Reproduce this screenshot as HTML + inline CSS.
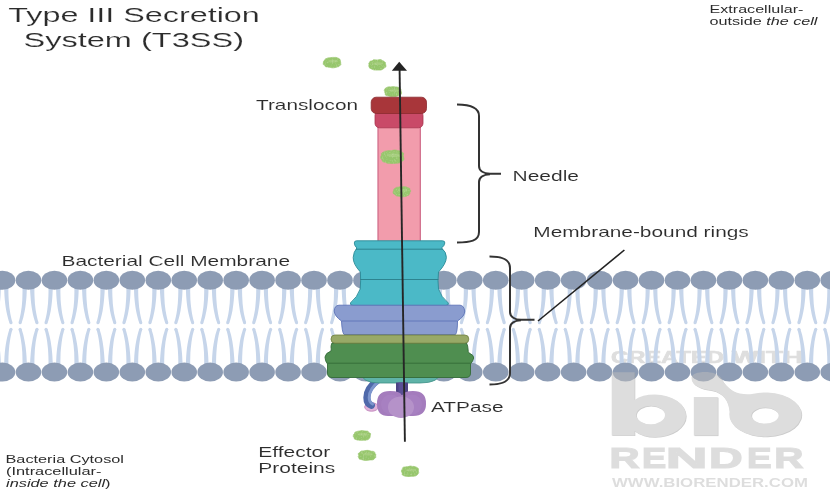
<!DOCTYPE html>
<html><head><meta charset="utf-8"><style>
html,body{margin:0;padding:0;background:#fff;width:830px;height:500px;overflow:hidden}
svg{display:block;will-change:transform}
text{font-family:"Liberation Sans",sans-serif;fill:#2c2c2c}
.tx .t1{stroke:#fff;stroke-width:0.15px}
.tx .t2{stroke:#fff;stroke-width:0.08px}
.tx{opacity:0.995}
.wm text{font-weight:bold;fill:#bdbdbd}
</style></head><body>
<svg width="830" height="500" viewBox="0 0 830 500">
<defs><filter id="mot" x="-20%" y="-20%" width="140%" height="140%">
<feTurbulence type="fractalNoise" baseFrequency="0.9 0.5" numOctaves="2" seed="4" result="n"/>
<feColorMatrix in="n" type="matrix" values="0 0 0 0 0.68  0 0 0 0 0.82  0 0 0 0 0.52  0 0 0 0.9 -0.45" result="spk"/>
<feComposite in="spk" in2="SourceGraphic" operator="in" result="spk2"/>
<feMerge><feMergeNode in="SourceGraphic"/><feMergeNode in="spk2"/></feMerge>
</filter></defs>
<rect width="830" height="500" fill="#fff"/>
<g class="wm" style="font-weight:bold"><g style="fill:#dedede"><text style="fill:#dedede" x="611" y="362.8" font-size="16.8" textLength="113" lengthAdjust="spacingAndGlyphs" stroke="#dedede" stroke-width="0.7">CREATED</text><text style="fill:#dedede" x="732" y="362.8" font-size="16.8" textLength="71" lengthAdjust="spacingAndGlyphs" stroke="#dedede" stroke-width="0.7">WITH</text></g></g>
<!-- membrane -->
<path d="M-3.4 288.0L-3.4 292.1L-3.5 296.0L-3.7 299.8L-4.0 303.5L-4.3 307.0L-4.7 310.3L-5.3 313.5L-5.9 316.6L-6.6 319.5L-7.3 322.3L-4.5 323.3L-3.5 320.4L-2.7 317.4L-1.9 314.2L-1.3 310.9L-0.7 307.4L-0.2 303.8L0.2 300.1L0.5 296.2L0.7 292.2L0.8 288.0ZM0.8 364.5L0.7 360.3L0.5 356.3L0.2 352.4L-0.2 348.6L-0.7 344.9L-1.3 341.4L-1.9 338.1L-2.7 334.8L-3.5 331.7L-4.5 328.7L-7.3 329.7L-6.6 332.5L-5.9 335.6L-5.3 338.7L-4.7 342.0L-4.3 345.4L-4.0 349.0L-3.7 352.6L-3.5 356.5L-3.4 360.4L-3.4 364.5ZM4.2 288.0L4.3 292.2L4.5 296.2L4.8 300.1L5.2 303.8L5.7 307.4L6.3 310.9L7.0 314.2L7.8 317.4L8.6 320.4L9.6 323.3L12.4 322.3L11.6 319.5L10.9 316.6L10.3 313.5L9.8 310.3L9.3 307.0L9.0 303.5L8.7 299.8L8.5 296.0L8.4 292.1L8.4 288.0ZM8.4 364.5L8.4 360.4L8.5 356.5L8.7 352.7L9.0 349.0L9.3 345.4L9.8 342.0L10.3 338.7L10.9 335.6L11.6 332.5L12.4 329.7L9.6 328.7L8.6 331.7L7.8 334.8L7.0 338.1L6.3 341.4L5.7 344.9L5.2 348.6L4.8 352.4L4.5 356.3L4.3 360.3L4.2 364.5ZM22.5 288.0L22.5 292.1L22.4 296.0L22.3 299.8L22.0 303.5L21.7 307.0L21.2 310.3L20.7 313.5L20.1 316.6L19.4 319.5L18.6 322.3L21.5 323.3L22.4 320.4L23.3 317.4L24.0 314.2L24.7 310.9L25.3 307.4L25.8 303.8L26.2 300.1L26.5 296.2L26.7 292.2L26.8 288.0ZM26.8 364.5L26.7 360.3L26.5 356.3L26.2 352.4L25.8 348.6L25.3 344.9L24.7 341.4L24.0 338.1L23.3 334.8L22.4 331.7L21.5 328.7L18.6 329.7L19.4 332.5L20.1 335.6L20.7 338.7L21.2 342.0L21.7 345.4L22.0 349.0L22.3 352.6L22.4 356.5L22.5 360.4L22.5 364.5ZM30.1 288.0L30.2 292.2L30.5 296.2L30.8 300.1L31.2 303.8L31.7 307.4L32.3 310.9L32.9 314.2L33.7 317.4L34.6 320.4L35.5 323.3L38.4 322.3L37.6 319.5L36.9 316.6L36.3 313.5L35.7 310.3L35.3 307.0L34.9 303.5L34.7 299.8L34.5 296.0L34.4 292.1L34.4 288.0ZM34.4 364.5L34.4 360.4L34.5 356.5L34.7 352.7L34.9 349.0L35.3 345.4L35.7 342.0L36.3 338.7L36.9 335.6L37.6 332.5L38.4 329.7L35.5 328.7L34.6 331.7L33.7 334.8L32.9 338.1L32.3 341.4L31.7 344.9L31.2 348.6L30.8 352.4L30.5 356.3L30.2 360.3L30.1 364.5ZM48.5 288.0L48.5 292.1L48.4 296.0L48.2 299.8L48.0 303.5L47.6 307.0L47.2 310.3L46.7 313.5L46.1 316.6L45.4 319.5L44.6 322.3L47.4 323.3L48.4 320.4L49.2 317.4L50.0 314.2L50.7 310.9L51.2 307.4L51.7 303.8L52.1 300.1L52.4 296.2L52.6 292.2L52.8 288.0ZM52.8 364.5L52.6 360.3L52.4 356.3L52.1 352.4L51.7 348.6L51.2 344.9L50.7 341.4L50.0 338.1L49.2 334.8L48.4 331.7L47.5 328.7L44.6 329.7L45.4 332.5L46.1 335.6L46.7 338.7L47.2 342.0L47.6 345.4L48.0 349.0L48.2 352.6L48.4 356.5L48.5 360.4L48.5 364.5ZM56.1 288.0L56.2 292.2L56.4 296.2L56.7 300.1L57.1 303.8L57.6 307.4L58.2 310.9L58.9 314.2L59.7 317.4L60.5 320.4L61.5 323.3L64.3 322.3L63.5 319.5L62.8 316.6L62.2 313.5L61.7 310.3L61.3 307.0L60.9 303.5L60.6 299.8L60.5 296.0L60.4 292.1L60.4 288.0ZM60.4 364.5L60.4 360.4L60.5 356.5L60.6 352.7L60.9 349.0L61.3 345.4L61.7 342.0L62.2 338.7L62.8 335.6L63.6 332.5L64.3 329.7L61.5 328.7L60.5 331.7L59.7 334.8L58.9 338.1L58.2 341.4L57.6 344.9L57.1 348.6L56.7 352.4L56.4 356.3L56.2 360.3L56.1 364.5ZM74.4 288.0L74.4 292.1L74.3 296.0L74.2 299.8L73.9 303.5L73.6 307.0L73.1 310.3L72.6 313.5L72.0 316.6L71.3 319.5L70.6 322.3L73.4 323.3L74.3 320.4L75.2 317.4L75.9 314.2L76.6 310.9L77.2 307.4L77.7 303.8L78.1 300.1L78.4 296.2L78.6 292.2L78.7 288.0ZM78.7 364.5L78.6 360.3L78.4 356.3L78.1 352.4L77.7 348.6L77.2 344.9L76.6 341.4L75.9 338.1L75.2 334.8L74.3 331.7L73.4 328.7L70.5 329.7L71.3 332.5L72.0 335.6L72.6 338.7L73.1 342.0L73.6 345.4L73.9 349.0L74.2 352.6L74.3 356.5L74.4 360.4L74.4 364.5ZM82.0 288.0L82.2 292.2L82.4 296.2L82.7 300.1L83.1 303.8L83.6 307.4L84.2 310.9L84.9 314.2L85.6 317.4L86.5 320.4L87.5 323.3L90.3 322.3L89.5 319.5L88.8 316.6L88.2 313.5L87.7 310.3L87.2 307.0L86.9 303.5L86.6 299.8L86.4 296.0L86.3 292.1L86.3 288.0ZM86.3 364.5L86.3 360.4L86.4 356.5L86.6 352.7L86.9 349.0L87.2 345.4L87.7 342.0L88.2 338.7L88.8 335.6L89.5 332.5L90.3 329.7L87.5 328.7L86.5 331.7L85.6 334.8L84.9 338.1L84.2 341.4L83.6 344.9L83.1 348.6L82.7 352.4L82.4 356.3L82.2 360.3L82.0 364.5ZM100.4 288.0L100.4 292.1L100.3 296.0L100.1 299.8L99.9 303.5L99.5 307.0L99.1 310.3L98.6 313.5L98.0 316.6L97.3 319.5L96.5 322.3L99.4 323.3L100.3 320.4L101.1 317.4L101.9 314.2L102.6 310.9L103.1 307.4L103.6 303.8L104.0 300.1L104.3 296.2L104.6 292.2L104.7 288.0ZM104.7 364.5L104.6 360.3L104.3 356.3L104.0 352.4L103.6 348.6L103.1 344.9L102.6 341.4L101.9 338.1L101.2 334.8L100.3 331.7L99.4 328.7L96.5 329.7L97.3 332.5L98.0 335.6L98.6 338.7L99.1 342.0L99.5 345.4L99.9 349.0L100.1 352.6L100.3 356.5L100.4 360.4L100.4 364.5ZM108.0 288.0L108.1 292.2L108.3 296.2L108.7 300.1L109.1 303.8L109.6 307.4L110.1 310.9L110.8 314.2L111.6 317.4L112.5 320.4L113.4 323.3L116.3 322.3L115.5 319.5L114.8 316.6L114.1 313.5L113.6 310.3L113.2 307.0L112.8 303.5L112.6 299.8L112.4 296.0L112.3 292.1L112.3 288.0ZM112.3 364.5L112.3 360.4L112.4 356.5L112.6 352.7L112.8 349.0L113.2 345.4L113.6 342.0L114.1 338.7L114.8 335.6L115.5 332.5L116.3 329.7L113.4 328.7L112.5 331.7L111.6 334.8L110.8 338.1L110.1 341.4L109.6 344.9L109.1 348.6L108.7 352.4L108.3 356.3L108.1 360.3L108.0 364.5ZM126.4 288.0L126.4 292.1L126.3 296.0L126.1 299.8L125.8 303.5L125.5 307.0L125.1 310.3L124.5 313.5L123.9 316.6L123.2 319.5L122.5 322.3L125.3 323.3L126.3 320.4L127.1 317.4L127.9 314.2L128.5 310.9L129.1 307.4L129.6 303.8L130.0 300.1L130.3 296.2L130.5 292.2L130.6 288.0ZM130.6 364.5L130.5 360.3L130.3 356.3L130.0 352.4L129.6 348.6L129.1 344.9L128.5 341.4L127.9 338.1L127.1 334.8L126.3 331.7L125.3 328.7L122.5 329.7L123.2 332.5L123.9 335.6L124.5 338.7L125.1 342.0L125.5 345.4L125.8 349.0L126.1 352.6L126.3 356.5L126.4 360.4L126.4 364.5ZM134.0 288.0L134.1 292.2L134.3 296.2L134.6 300.1L135.0 303.8L135.5 307.4L136.1 310.9L136.8 314.2L137.6 317.4L138.4 320.4L139.4 323.3L142.2 322.3L141.4 319.5L140.7 316.6L140.1 313.5L139.6 310.3L139.1 307.0L138.8 303.5L138.5 299.8L138.3 296.0L138.2 292.1L138.2 288.0ZM138.2 364.5L138.2 360.4L138.3 356.5L138.5 352.7L138.8 349.0L139.1 345.4L139.6 342.0L140.1 338.7L140.7 335.6L141.4 332.5L142.2 329.7L139.4 328.7L138.4 331.7L137.6 334.8L136.8 338.1L136.1 341.4L135.5 344.9L135.0 348.6L134.6 352.4L134.3 356.3L134.1 360.3L134.0 364.5ZM152.3 288.0L152.3 292.1L152.2 296.0L152.1 299.8L151.8 303.5L151.5 307.0L151.0 310.3L150.5 313.5L149.9 316.6L149.2 319.5L148.4 322.3L151.3 323.3L152.2 320.4L153.1 317.4L153.8 314.2L154.5 310.9L155.1 307.4L155.6 303.8L156.0 300.1L156.3 296.2L156.5 292.2L156.6 288.0ZM156.6 364.5L156.5 360.3L156.3 356.3L156.0 352.4L155.6 348.6L155.1 344.9L154.5 341.4L153.8 338.1L153.1 334.8L152.2 331.7L151.3 328.7L148.4 329.7L149.2 332.5L149.9 335.6L150.5 338.7L151.0 342.0L151.5 345.4L151.8 349.0L152.1 352.6L152.2 356.5L152.3 360.4L152.3 364.5ZM159.9 288.0L160.0 292.2L160.3 296.2L160.6 300.1L161.0 303.8L161.5 307.4L162.1 310.9L162.7 314.2L163.5 317.4L164.4 320.4L165.3 323.3L168.2 322.3L167.4 319.5L166.7 316.6L166.1 313.5L165.5 310.3L165.1 307.0L164.7 303.5L164.5 299.8L164.3 296.0L164.2 292.1L164.2 288.0ZM164.2 364.5L164.2 360.4L164.3 356.5L164.5 352.7L164.7 349.0L165.1 345.4L165.5 342.0L166.1 338.7L166.7 335.6L167.4 332.5L168.2 329.7L165.3 328.7L164.4 331.7L163.5 334.8L162.7 338.1L162.1 341.4L161.5 344.9L161.0 348.6L160.6 352.4L160.3 356.3L160.0 360.3L159.9 364.5ZM178.3 288.0L178.3 292.1L178.2 296.0L178.0 299.8L177.8 303.5L177.4 307.0L177.0 310.3L176.5 313.5L175.9 316.6L175.2 319.5L174.4 322.3L177.2 323.3L178.2 320.4L179.0 317.4L179.8 314.2L180.5 310.9L181.0 307.4L181.5 303.8L181.9 300.1L182.2 296.2L182.4 292.2L182.6 288.0ZM182.6 364.5L182.4 360.3L182.2 356.3L181.9 352.4L181.5 348.6L181.0 344.9L180.5 341.4L179.8 338.1L179.0 334.8L178.2 331.7L177.3 328.7L174.4 329.7L175.2 332.5L175.9 335.6L176.5 338.7L177.0 342.0L177.4 345.4L177.8 349.0L178.0 352.6L178.2 356.5L178.3 360.4L178.3 364.5ZM185.9 288.0L186.0 292.2L186.2 296.2L186.5 300.1L186.9 303.8L187.4 307.4L188.0 310.9L188.7 314.2L189.5 317.4L190.3 320.4L191.3 323.3L194.1 322.3L193.3 319.5L192.6 316.6L192.0 313.5L191.5 310.3L191.1 307.0L190.7 303.5L190.4 299.8L190.3 296.0L190.2 292.1L190.2 288.0ZM190.2 364.5L190.2 360.4L190.3 356.5L190.4 352.7L190.7 349.0L191.1 345.4L191.5 342.0L192.0 338.7L192.6 335.6L193.4 332.5L194.1 329.7L191.3 328.7L190.3 331.7L189.5 334.8L188.7 338.1L188.0 341.4L187.4 344.9L186.9 348.6L186.5 352.4L186.2 356.3L186.0 360.3L185.9 364.5ZM204.2 288.0L204.2 292.1L204.1 296.0L204.0 299.8L203.7 303.5L203.4 307.0L202.9 310.3L202.4 313.5L201.8 316.6L201.1 319.5L200.4 322.3L203.2 323.3L204.1 320.4L205.0 317.4L205.7 314.2L206.4 310.9L207.0 307.4L207.5 303.8L207.9 300.1L208.2 296.2L208.4 292.2L208.5 288.0ZM208.5 364.5L208.4 360.3L208.2 356.3L207.9 352.4L207.5 348.6L207.0 344.9L206.4 341.4L205.7 338.1L205.0 334.8L204.1 331.7L203.2 328.7L200.3 329.7L201.1 332.5L201.8 335.6L202.4 338.7L202.9 342.0L203.4 345.4L203.7 349.0L204.0 352.6L204.1 356.5L204.2 360.4L204.2 364.5ZM211.8 288.0L212.0 292.2L212.2 296.2L212.5 300.1L212.9 303.8L213.4 307.4L214.0 310.9L214.7 314.2L215.4 317.4L216.3 320.4L217.3 323.3L220.1 322.3L219.3 319.5L218.6 316.6L218.0 313.5L217.5 310.3L217.0 307.0L216.7 303.5L216.4 299.8L216.2 296.0L216.1 292.1L216.1 288.0ZM216.1 364.5L216.1 360.4L216.2 356.5L216.4 352.7L216.7 349.0L217.0 345.4L217.5 342.0L218.0 338.7L218.6 335.6L219.3 332.5L220.1 329.7L217.3 328.7L216.3 331.7L215.4 334.8L214.7 338.1L214.0 341.4L213.4 344.9L212.9 348.6L212.5 352.4L212.2 356.3L212.0 360.3L211.8 364.5ZM230.2 288.0L230.2 292.1L230.1 296.0L229.9 299.8L229.7 303.5L229.3 307.0L228.9 310.3L228.4 313.5L227.8 316.6L227.1 319.5L226.3 322.3L229.2 323.3L230.1 320.4L230.9 317.4L231.7 314.2L232.4 310.9L232.9 307.4L233.4 303.8L233.8 300.1L234.1 296.2L234.4 292.2L234.5 288.0ZM234.5 364.5L234.4 360.3L234.1 356.3L233.8 352.4L233.4 348.6L232.9 344.9L232.4 341.4L231.7 338.1L231.0 334.8L230.1 331.7L229.2 328.7L226.3 329.7L227.1 332.5L227.8 335.6L228.4 338.7L228.9 342.0L229.3 345.4L229.7 349.0L229.9 352.6L230.1 356.5L230.2 360.4L230.2 364.5ZM237.8 288.0L237.9 292.2L238.1 296.2L238.5 300.1L238.9 303.8L239.4 307.4L239.9 310.9L240.6 314.2L241.4 317.4L242.3 320.4L243.2 323.3L246.1 322.3L245.3 319.5L244.6 316.6L243.9 313.5L243.4 310.3L243.0 307.0L242.6 303.5L242.4 299.8L242.2 296.0L242.1 292.1L242.1 288.0ZM242.1 364.5L242.1 360.4L242.2 356.5L242.4 352.7L242.6 349.0L243.0 345.4L243.4 342.0L243.9 338.7L244.6 335.6L245.3 332.5L246.1 329.7L243.2 328.7L242.3 331.7L241.4 334.8L240.6 338.1L239.9 341.4L239.4 344.9L238.9 348.6L238.5 352.4L238.1 356.3L237.9 360.3L237.8 364.5ZM256.2 288.0L256.2 292.1L256.1 296.0L255.9 299.8L255.6 303.5L255.3 307.0L254.9 310.3L254.3 313.5L253.7 316.6L253.0 319.5L252.3 322.3L255.1 323.3L256.1 320.4L256.9 317.4L257.7 314.2L258.3 310.9L258.9 307.4L259.4 303.8L259.8 300.1L260.1 296.2L260.3 292.2L260.4 288.0ZM260.4 364.5L260.3 360.3L260.1 356.3L259.8 352.4L259.4 348.6L258.9 344.9L258.3 341.4L257.7 338.1L256.9 334.8L256.1 331.7L255.1 328.7L252.3 329.7L253.0 332.5L253.7 335.6L254.3 338.7L254.9 342.0L255.3 345.4L255.6 349.0L255.9 352.6L256.1 356.5L256.2 360.4L256.2 364.5ZM263.8 288.0L263.9 292.2L264.1 296.2L264.4 300.1L264.8 303.8L265.3 307.4L265.9 310.9L266.6 314.2L267.4 317.4L268.2 320.4L269.2 323.3L272.0 322.3L271.2 319.5L270.5 316.6L269.9 313.5L269.4 310.3L268.9 307.0L268.6 303.5L268.3 299.8L268.1 296.0L268.0 292.1L268.0 288.0ZM268.0 364.5L268.0 360.4L268.1 356.5L268.3 352.7L268.6 349.0L268.9 345.4L269.4 342.0L269.9 338.7L270.5 335.6L271.2 332.5L272.0 329.7L269.2 328.7L268.2 331.7L267.4 334.8L266.6 338.1L265.9 341.4L265.3 344.9L264.8 348.6L264.4 352.4L264.1 356.3L263.9 360.3L263.8 364.5ZM282.1 288.0L282.1 292.1L282.0 296.0L281.9 299.8L281.6 303.5L281.3 307.0L280.8 310.3L280.3 313.5L279.7 316.6L279.0 319.5L278.2 322.3L281.1 323.3L282.0 320.4L282.9 317.4L283.6 314.2L284.3 310.9L284.9 307.4L285.4 303.8L285.8 300.1L286.1 296.2L286.3 292.2L286.4 288.0ZM286.4 364.5L286.3 360.3L286.1 356.3L285.8 352.4L285.4 348.6L284.9 344.9L284.3 341.4L283.6 338.1L282.9 334.8L282.0 331.7L281.1 328.7L278.2 329.7L279.0 332.5L279.7 335.6L280.3 338.7L280.8 342.0L281.3 345.4L281.6 349.0L281.9 352.6L282.0 356.5L282.1 360.4L282.1 364.5ZM289.7 288.0L289.8 292.2L290.1 296.2L290.4 300.1L290.8 303.8L291.3 307.4L291.9 310.9L292.5 314.2L293.3 317.4L294.2 320.4L295.1 323.3L298.0 322.3L297.2 319.5L296.5 316.6L295.9 313.5L295.3 310.3L294.9 307.0L294.5 303.5L294.3 299.8L294.1 296.0L294.0 292.1L294.0 288.0ZM294.0 364.5L294.0 360.4L294.1 356.5L294.3 352.7L294.5 349.0L294.9 345.4L295.3 342.0L295.9 338.7L296.5 335.6L297.2 332.5L298.0 329.7L295.1 328.7L294.2 331.7L293.3 334.8L292.5 338.1L291.9 341.4L291.3 344.9L290.8 348.6L290.4 352.4L290.1 356.3L289.8 360.3L289.7 364.5ZM308.1 288.0L308.1 292.1L308.0 296.0L307.8 299.8L307.6 303.5L307.2 307.0L306.8 310.3L306.3 313.5L305.7 316.6L305.0 319.5L304.2 322.3L307.0 323.3L308.0 320.4L308.8 317.4L309.6 314.2L310.3 310.9L310.8 307.4L311.3 303.8L311.7 300.1L312.0 296.2L312.2 292.2L312.4 288.0ZM312.4 364.5L312.2 360.3L312.0 356.3L311.7 352.4L311.3 348.6L310.8 344.9L310.3 341.4L309.6 338.1L308.8 334.8L308.0 331.7L307.1 328.7L304.2 329.7L305.0 332.5L305.7 335.6L306.3 338.7L306.8 342.0L307.2 345.4L307.6 349.0L307.8 352.6L308.0 356.5L308.1 360.4L308.1 364.5ZM315.7 288.0L315.8 292.2L316.0 296.2L316.3 300.1L316.7 303.8L317.2 307.4L317.8 310.9L318.5 314.2L319.3 317.4L320.1 320.4L321.1 323.3L323.9 322.3L323.1 319.5L322.4 316.6L321.8 313.5L321.3 310.3L320.9 307.0L320.5 303.5L320.2 299.8L320.1 296.0L320.0 292.1L320.0 288.0ZM320.0 364.5L320.0 360.4L320.1 356.5L320.2 352.7L320.5 349.0L320.9 345.4L321.3 342.0L321.8 338.7L322.4 335.6L323.2 332.5L323.9 329.7L321.1 328.7L320.1 331.7L319.3 334.8L318.5 338.1L317.8 341.4L317.2 344.9L316.7 348.6L316.3 352.4L316.0 356.3L315.8 360.3L315.7 364.5ZM334.0 288.0L334.0 292.1L333.9 296.0L333.8 299.8L333.5 303.5L333.2 307.0L332.7 310.3L332.2 313.5L331.6 316.6L330.9 319.5L330.2 322.3L333.0 323.3L333.9 320.4L334.8 317.4L335.5 314.2L336.2 310.9L336.8 307.4L337.3 303.8L337.7 300.1L338.0 296.2L338.2 292.2L338.3 288.0ZM338.3 364.5L338.2 360.3L338.0 356.3L337.7 352.4L337.3 348.6L336.8 344.9L336.2 341.4L335.5 338.1L334.8 334.8L333.9 331.7L333.0 328.7L330.1 329.7L330.9 332.5L331.6 335.6L332.2 338.7L332.7 342.0L333.2 345.4L333.5 349.0L333.8 352.6L333.9 356.5L334.0 360.4L334.0 364.5ZM341.6 288.0L341.8 292.2L342.0 296.2L342.3 300.1L342.7 303.8L343.2 307.4L343.8 310.9L344.5 314.2L345.2 317.4L346.1 320.4L347.1 323.3L349.9 322.3L349.1 319.5L348.4 316.6L347.8 313.5L347.3 310.3L346.8 307.0L346.5 303.5L346.2 299.8L346.0 296.0L345.9 292.1L345.9 288.0ZM345.9 364.5L345.9 360.4L346.0 356.5L346.2 352.7L346.5 349.0L346.8 345.4L347.3 342.0L347.8 338.7L348.4 335.6L349.1 332.5L349.9 329.7L347.1 328.7L346.1 331.7L345.2 334.8L344.5 338.1L343.8 341.4L343.2 344.9L342.7 348.6L342.3 352.4L342.0 356.3L341.8 360.3L341.6 364.5ZM360.0 288.0L360.0 292.1L359.9 296.0L359.7 299.8L359.5 303.5L359.1 307.0L358.7 310.3L358.2 313.5L357.6 316.6L356.9 319.5L356.1 322.3L359.0 323.3L359.9 320.4L360.7 317.4L361.5 314.2L362.2 310.9L362.7 307.4L363.2 303.8L363.6 300.1L363.9 296.2L364.2 292.2L364.3 288.0ZM364.3 364.5L364.2 360.3L363.9 356.3L363.6 352.4L363.2 348.6L362.7 344.9L362.2 341.4L361.5 338.1L360.8 334.8L359.9 331.7L359.0 328.7L356.1 329.7L356.9 332.5L357.6 335.6L358.2 338.7L358.7 342.0L359.1 345.4L359.5 349.0L359.7 352.6L359.9 356.5L360.0 360.4L360.0 364.5ZM367.6 288.0L367.7 292.2L367.9 296.2L368.3 300.1L368.7 303.8L369.2 307.4L369.7 310.9L370.4 314.2L371.2 317.4L372.1 320.4L373.0 323.3L375.9 322.3L375.1 319.5L374.4 316.6L373.7 313.5L373.2 310.3L372.8 307.0L372.4 303.5L372.2 299.8L372.0 296.0L371.9 292.1L371.9 288.0ZM371.9 364.5L371.9 360.4L372.0 356.5L372.2 352.7L372.4 349.0L372.8 345.4L373.2 342.0L373.7 338.7L374.4 335.6L375.1 332.5L375.9 329.7L373.0 328.7L372.1 331.7L371.2 334.8L370.4 338.1L369.7 341.4L369.2 344.9L368.7 348.6L368.3 352.4L367.9 356.3L367.7 360.3L367.6 364.5ZM386.0 288.0L386.0 292.1L385.9 296.0L385.7 299.8L385.4 303.5L385.1 307.0L384.7 310.3L384.1 313.5L383.5 316.6L382.8 319.5L382.1 322.3L384.9 323.3L385.9 320.4L386.7 317.4L387.5 314.2L388.1 310.9L388.7 307.4L389.2 303.8L389.6 300.1L389.9 296.2L390.1 292.2L390.2 288.0ZM390.2 364.5L390.1 360.3L389.9 356.3L389.6 352.4L389.2 348.6L388.7 344.9L388.1 341.4L387.5 338.1L386.7 334.8L385.9 331.7L384.9 328.7L382.1 329.7L382.8 332.5L383.5 335.6L384.1 338.7L384.7 342.0L385.1 345.4L385.4 349.0L385.7 352.6L385.9 356.5L386.0 360.4L386.0 364.5ZM393.6 288.0L393.7 292.2L393.9 296.2L394.2 300.1L394.6 303.8L395.1 307.4L395.7 310.9L396.4 314.2L397.2 317.4L398.0 320.4L399.0 323.3L401.8 322.3L401.0 319.5L400.3 316.6L399.7 313.5L399.2 310.3L398.7 307.0L398.4 303.5L398.1 299.8L397.9 296.0L397.8 292.1L397.8 288.0ZM397.8 364.5L397.8 360.4L397.9 356.5L398.1 352.7L398.4 349.0L398.7 345.4L399.2 342.0L399.7 338.7L400.3 335.6L401.0 332.5L401.8 329.7L399.0 328.7L398.0 331.7L397.2 334.8L396.4 338.1L395.7 341.4L395.1 344.9L394.6 348.6L394.2 352.4L393.9 356.3L393.7 360.3L393.6 364.5ZM411.9 288.0L411.9 292.1L411.8 296.0L411.7 299.8L411.4 303.5L411.1 307.0L410.6 310.3L410.1 313.5L409.5 316.6L408.8 319.5L408.0 322.3L410.9 323.3L411.8 320.4L412.7 317.4L413.4 314.2L414.1 310.9L414.7 307.4L415.2 303.8L415.6 300.1L415.9 296.2L416.1 292.2L416.2 288.0ZM416.2 364.5L416.1 360.3L415.9 356.3L415.6 352.4L415.2 348.6L414.7 344.9L414.1 341.4L413.4 338.1L412.7 334.8L411.8 331.7L410.9 328.7L408.0 329.7L408.8 332.5L409.5 335.6L410.1 338.7L410.6 342.0L411.1 345.4L411.4 349.0L411.7 352.6L411.8 356.5L411.9 360.4L411.9 364.5ZM419.5 288.0L419.6 292.2L419.9 296.2L420.2 300.1L420.6 303.8L421.1 307.4L421.7 310.9L422.3 314.2L423.1 317.4L424.0 320.4L424.9 323.3L427.8 322.3L427.0 319.5L426.3 316.6L425.7 313.5L425.1 310.3L424.7 307.0L424.3 303.5L424.1 299.8L423.9 296.0L423.8 292.1L423.8 288.0ZM423.8 364.5L423.8 360.4L423.9 356.5L424.1 352.7L424.3 349.0L424.7 345.4L425.1 342.0L425.7 338.7L426.3 335.6L427.0 332.5L427.8 329.7L424.9 328.7L424.0 331.7L423.1 334.8L422.3 338.1L421.7 341.4L421.1 344.9L420.6 348.6L420.2 352.4L419.9 356.3L419.6 360.3L419.5 364.5ZM437.9 288.0L437.9 292.1L437.8 296.0L437.6 299.8L437.4 303.5L437.0 307.0L436.6 310.3L436.1 313.5L435.5 316.6L434.8 319.5L434.0 322.3L436.8 323.3L437.8 320.4L438.6 317.4L439.4 314.2L440.1 310.9L440.6 307.4L441.1 303.8L441.5 300.1L441.8 296.2L442.0 292.2L442.2 288.0ZM442.2 364.5L442.0 360.3L441.8 356.3L441.5 352.4L441.1 348.6L440.6 344.9L440.1 341.4L439.4 338.1L438.6 334.8L437.8 331.7L436.9 328.7L434.0 329.7L434.8 332.5L435.5 335.6L436.1 338.7L436.6 342.0L437.0 345.4L437.4 349.0L437.6 352.6L437.8 356.5L437.9 360.4L437.9 364.5ZM445.5 288.0L445.6 292.2L445.8 296.2L446.1 300.1L446.5 303.8L447.0 307.4L447.6 310.9L448.3 314.2L449.1 317.4L449.9 320.4L450.9 323.3L453.7 322.3L452.9 319.5L452.2 316.6L451.6 313.5L451.1 310.3L450.7 307.0L450.3 303.5L450.0 299.8L449.9 296.0L449.8 292.1L449.8 288.0ZM449.8 364.5L449.8 360.4L449.9 356.5L450.0 352.7L450.3 349.0L450.7 345.4L451.1 342.0L451.6 338.7L452.2 335.6L453.0 332.5L453.7 329.7L450.9 328.7L449.9 331.7L449.1 334.8L448.3 338.1L447.6 341.4L447.0 344.9L446.5 348.6L446.1 352.4L445.8 356.3L445.6 360.3L445.5 364.5ZM463.8 288.0L463.8 292.1L463.7 296.0L463.6 299.8L463.3 303.5L463.0 307.0L462.5 310.3L462.0 313.5L461.4 316.6L460.7 319.5L460.0 322.3L462.8 323.3L463.7 320.4L464.6 317.4L465.3 314.2L466.0 310.9L466.6 307.4L467.1 303.8L467.5 300.1L467.8 296.2L468.0 292.2L468.1 288.0ZM468.1 364.5L468.0 360.3L467.8 356.3L467.5 352.4L467.1 348.6L466.6 344.9L466.0 341.4L465.3 338.1L464.6 334.8L463.7 331.7L462.8 328.7L459.9 329.7L460.7 332.5L461.4 335.6L462.0 338.7L462.5 342.0L463.0 345.4L463.3 349.0L463.6 352.6L463.7 356.5L463.8 360.4L463.8 364.5ZM471.4 288.0L471.6 292.2L471.8 296.2L472.1 300.1L472.5 303.8L473.0 307.4L473.6 310.9L474.3 314.2L475.0 317.4L475.9 320.4L476.9 323.3L479.7 322.3L478.9 319.5L478.2 316.6L477.6 313.5L477.1 310.3L476.6 307.0L476.3 303.5L476.0 299.8L475.8 296.0L475.7 292.1L475.7 288.0ZM475.7 364.5L475.7 360.4L475.8 356.5L476.0 352.7L476.3 349.0L476.6 345.4L477.1 342.0L477.6 338.7L478.2 335.6L478.9 332.5L479.7 329.7L476.9 328.7L475.9 331.7L475.0 334.8L474.3 338.1L473.6 341.4L473.0 344.9L472.5 348.6L472.1 352.4L471.8 356.3L471.6 360.3L471.4 364.5ZM489.8 288.0L489.8 292.1L489.7 296.0L489.5 299.8L489.3 303.5L488.9 307.0L488.5 310.3L488.0 313.5L487.4 316.6L486.7 319.5L485.9 322.3L488.8 323.3L489.7 320.4L490.5 317.4L491.3 314.2L492.0 310.9L492.5 307.4L493.0 303.8L493.4 300.1L493.7 296.2L494.0 292.2L494.1 288.0ZM494.1 364.5L494.0 360.3L493.7 356.3L493.4 352.4L493.0 348.6L492.5 344.9L492.0 341.4L491.3 338.1L490.6 334.8L489.7 331.7L488.8 328.7L485.9 329.7L486.7 332.5L487.4 335.6L488.0 338.7L488.5 342.0L488.9 345.4L489.3 349.0L489.5 352.6L489.7 356.5L489.8 360.4L489.8 364.5ZM497.4 288.0L497.5 292.2L497.7 296.2L498.1 300.1L498.5 303.8L499.0 307.4L499.5 310.9L500.2 314.2L501.0 317.4L501.9 320.4L502.8 323.3L505.7 322.3L504.9 319.5L504.2 316.6L503.5 313.5L503.0 310.3L502.6 307.0L502.2 303.5L502.0 299.8L501.8 296.0L501.7 292.1L501.7 288.0ZM501.7 364.5L501.7 360.4L501.8 356.5L502.0 352.7L502.2 349.0L502.6 345.4L503.0 342.0L503.5 338.7L504.2 335.6L504.9 332.5L505.7 329.7L502.8 328.7L501.9 331.7L501.0 334.8L500.2 338.1L499.5 341.4L499.0 344.9L498.5 348.6L498.1 352.4L497.7 356.3L497.5 360.3L497.4 364.5ZM515.8 288.0L515.8 292.1L515.7 296.0L515.5 299.8L515.2 303.5L514.9 307.0L514.5 310.3L513.9 313.5L513.3 316.6L512.6 319.5L511.9 322.3L514.7 323.3L515.7 320.4L516.5 317.4L517.3 314.2L517.9 310.9L518.5 307.4L519.0 303.8L519.4 300.1L519.7 296.2L519.9 292.2L520.0 288.0ZM520.0 364.5L519.9 360.3L519.7 356.3L519.4 352.4L519.0 348.6L518.5 344.9L517.9 341.4L517.3 338.1L516.5 334.8L515.7 331.7L514.7 328.7L511.9 329.7L512.6 332.5L513.3 335.6L513.9 338.7L514.5 342.0L514.9 345.4L515.2 349.0L515.5 352.6L515.7 356.5L515.8 360.4L515.8 364.5ZM523.4 288.0L523.5 292.2L523.7 296.2L524.0 300.1L524.4 303.8L524.9 307.4L525.5 310.9L526.2 314.2L527.0 317.4L527.8 320.4L528.8 323.3L531.6 322.3L530.8 319.5L530.1 316.6L529.5 313.5L529.0 310.3L528.5 307.0L528.2 303.5L527.9 299.8L527.7 296.0L527.6 292.1L527.6 288.0ZM527.6 364.5L527.6 360.4L527.7 356.5L527.9 352.7L528.2 349.0L528.5 345.4L529.0 342.0L529.5 338.7L530.1 335.6L530.8 332.5L531.6 329.7L528.8 328.7L527.8 331.7L527.0 334.8L526.2 338.1L525.5 341.4L524.9 344.9L524.4 348.6L524.0 352.4L523.7 356.3L523.5 360.3L523.4 364.5ZM541.7 288.0L541.7 292.1L541.6 296.0L541.5 299.8L541.2 303.5L540.9 307.0L540.4 310.3L539.9 313.5L539.3 316.6L538.6 319.5L537.8 322.3L540.7 323.3L541.6 320.4L542.5 317.4L543.2 314.2L543.9 310.9L544.5 307.4L545.0 303.8L545.4 300.1L545.7 296.2L545.9 292.2L546.0 288.0ZM546.0 364.5L545.9 360.3L545.7 356.3L545.4 352.4L545.0 348.6L544.5 344.9L543.9 341.4L543.2 338.1L542.5 334.8L541.6 331.7L540.7 328.7L537.8 329.7L538.6 332.5L539.3 335.6L539.9 338.7L540.4 342.0L540.9 345.4L541.2 349.0L541.5 352.6L541.6 356.5L541.7 360.4L541.7 364.5ZM549.3 288.0L549.4 292.2L549.7 296.2L550.0 300.1L550.4 303.8L550.9 307.4L551.5 310.9L552.1 314.2L552.9 317.4L553.8 320.4L554.7 323.3L557.6 322.3L556.8 319.5L556.1 316.6L555.5 313.5L554.9 310.3L554.5 307.0L554.1 303.5L553.9 299.8L553.7 296.0L553.6 292.1L553.6 288.0ZM553.6 364.5L553.6 360.4L553.7 356.5L553.9 352.7L554.1 349.0L554.5 345.4L554.9 342.0L555.5 338.7L556.1 335.6L556.8 332.5L557.6 329.7L554.7 328.7L553.8 331.7L552.9 334.8L552.1 338.1L551.5 341.4L550.9 344.9L550.4 348.6L550.0 352.4L549.7 356.3L549.4 360.3L549.3 364.5ZM567.7 288.0L567.7 292.1L567.6 296.0L567.4 299.8L567.2 303.5L566.8 307.0L566.4 310.3L565.9 313.5L565.3 316.6L564.6 319.5L563.8 322.3L566.6 323.3L567.6 320.4L568.4 317.4L569.2 314.2L569.9 310.9L570.4 307.4L570.9 303.8L571.3 300.1L571.6 296.2L571.8 292.2L572.0 288.0ZM572.0 364.5L571.8 360.3L571.6 356.3L571.3 352.4L570.9 348.6L570.4 344.9L569.9 341.4L569.2 338.1L568.4 334.8L567.6 331.7L566.7 328.7L563.8 329.7L564.6 332.5L565.3 335.6L565.9 338.7L566.4 342.0L566.8 345.4L567.2 349.0L567.4 352.6L567.6 356.5L567.7 360.4L567.7 364.5ZM575.3 288.0L575.4 292.2L575.6 296.2L575.9 300.1L576.3 303.8L576.8 307.4L577.4 310.9L578.1 314.2L578.9 317.4L579.7 320.4L580.7 323.3L583.5 322.3L582.7 319.5L582.0 316.6L581.4 313.5L580.9 310.3L580.5 307.0L580.1 303.5L579.8 299.8L579.7 296.0L579.6 292.1L579.6 288.0ZM579.6 364.5L579.6 360.4L579.7 356.5L579.8 352.7L580.1 349.0L580.5 345.4L580.9 342.0L581.4 338.7L582.0 335.6L582.8 332.5L583.5 329.7L580.7 328.7L579.7 331.7L578.9 334.8L578.1 338.1L577.4 341.4L576.8 344.9L576.3 348.6L575.9 352.4L575.6 356.3L575.4 360.3L575.3 364.5ZM593.6 288.0L593.6 292.1L593.5 296.0L593.4 299.8L593.1 303.5L592.8 307.0L592.3 310.3L591.8 313.5L591.2 316.6L590.5 319.5L589.8 322.3L592.6 323.3L593.5 320.4L594.4 317.4L595.1 314.2L595.8 310.9L596.4 307.4L596.9 303.8L597.3 300.1L597.6 296.2L597.8 292.2L597.9 288.0ZM597.9 364.5L597.8 360.3L597.6 356.3L597.3 352.4L596.9 348.6L596.4 344.9L595.8 341.4L595.1 338.1L594.4 334.8L593.5 331.7L592.6 328.7L589.7 329.7L590.5 332.5L591.2 335.6L591.8 338.7L592.3 342.0L592.8 345.4L593.1 349.0L593.4 352.6L593.5 356.5L593.6 360.4L593.6 364.5ZM601.2 288.0L601.4 292.2L601.6 296.2L601.9 300.1L602.3 303.8L602.8 307.4L603.4 310.9L604.1 314.2L604.8 317.4L605.7 320.4L606.7 323.3L609.5 322.3L608.7 319.5L608.0 316.6L607.4 313.5L606.9 310.3L606.4 307.0L606.1 303.5L605.8 299.8L605.6 296.0L605.5 292.1L605.5 288.0ZM605.5 364.5L605.5 360.4L605.6 356.5L605.8 352.7L606.1 349.0L606.4 345.4L606.9 342.0L607.4 338.7L608.0 335.6L608.7 332.5L609.5 329.7L606.7 328.7L605.7 331.7L604.8 334.8L604.1 338.1L603.4 341.4L602.8 344.9L602.3 348.6L601.9 352.4L601.6 356.3L601.4 360.3L601.2 364.5ZM619.6 288.0L619.6 292.1L619.5 296.0L619.3 299.8L619.1 303.5L618.7 307.0L618.3 310.3L617.8 313.5L617.2 316.6L616.5 319.5L615.7 322.3L618.6 323.3L619.5 320.4L620.3 317.4L621.1 314.2L621.8 310.9L622.3 307.4L622.8 303.8L623.2 300.1L623.5 296.2L623.8 292.2L623.9 288.0ZM623.9 364.5L623.8 360.3L623.5 356.3L623.2 352.4L622.8 348.6L622.3 344.9L621.8 341.4L621.1 338.1L620.4 334.8L619.5 331.7L618.6 328.7L615.7 329.7L616.5 332.5L617.2 335.6L617.8 338.7L618.3 342.0L618.7 345.4L619.1 349.0L619.3 352.6L619.5 356.5L619.6 360.4L619.6 364.5ZM627.2 288.0L627.3 292.2L627.5 296.2L627.9 300.1L628.3 303.8L628.8 307.4L629.3 310.9L630.0 314.2L630.8 317.4L631.7 320.4L632.6 323.3L635.5 322.3L634.7 319.5L634.0 316.6L633.3 313.5L632.8 310.3L632.4 307.0L632.0 303.5L631.8 299.8L631.6 296.0L631.5 292.1L631.5 288.0ZM631.5 364.5L631.5 360.4L631.6 356.5L631.8 352.7L632.0 349.0L632.4 345.4L632.8 342.0L633.3 338.7L634.0 335.6L634.7 332.5L635.5 329.7L632.6 328.7L631.7 331.7L630.8 334.8L630.0 338.1L629.3 341.4L628.8 344.9L628.3 348.6L627.9 352.4L627.5 356.3L627.3 360.3L627.2 364.5ZM645.6 288.0L645.6 292.1L645.5 296.0L645.3 299.8L645.0 303.5L644.7 307.0L644.3 310.3L643.7 313.5L643.1 316.6L642.4 319.5L641.7 322.3L644.5 323.3L645.5 320.4L646.3 317.4L647.1 314.2L647.7 310.9L648.3 307.4L648.8 303.8L649.2 300.1L649.5 296.2L649.7 292.2L649.8 288.0ZM649.8 364.5L649.7 360.3L649.5 356.3L649.2 352.4L648.8 348.6L648.3 344.9L647.7 341.4L647.1 338.1L646.3 334.8L645.5 331.7L644.5 328.7L641.7 329.7L642.4 332.5L643.1 335.6L643.7 338.7L644.3 342.0L644.7 345.4L645.0 349.0L645.3 352.6L645.5 356.5L645.6 360.4L645.6 364.5ZM653.2 288.0L653.3 292.2L653.5 296.2L653.8 300.1L654.2 303.8L654.7 307.4L655.3 310.9L656.0 314.2L656.8 317.4L657.6 320.4L658.6 323.3L661.4 322.3L660.6 319.5L659.9 316.6L659.3 313.5L658.8 310.3L658.3 307.0L658.0 303.5L657.7 299.8L657.5 296.0L657.4 292.1L657.4 288.0ZM657.4 364.5L657.4 360.4L657.5 356.5L657.7 352.7L658.0 349.0L658.3 345.4L658.8 342.0L659.3 338.7L659.9 335.6L660.6 332.5L661.4 329.7L658.6 328.7L657.6 331.7L656.8 334.8L656.0 338.1L655.3 341.4L654.7 344.9L654.2 348.6L653.8 352.4L653.5 356.3L653.3 360.3L653.2 364.5ZM671.5 288.0L671.5 292.1L671.4 296.0L671.3 299.8L671.0 303.5L670.7 307.0L670.2 310.3L669.7 313.5L669.1 316.6L668.4 319.5L667.6 322.3L670.5 323.3L671.4 320.4L672.3 317.4L673.0 314.2L673.7 310.9L674.3 307.4L674.8 303.8L675.2 300.1L675.5 296.2L675.7 292.2L675.8 288.0ZM675.8 364.5L675.7 360.3L675.5 356.3L675.2 352.4L674.8 348.6L674.3 344.9L673.7 341.4L673.0 338.1L672.3 334.8L671.4 331.7L670.5 328.7L667.6 329.7L668.4 332.5L669.1 335.6L669.7 338.7L670.2 342.0L670.7 345.4L671.0 349.0L671.3 352.6L671.4 356.5L671.5 360.4L671.5 364.5ZM679.1 288.0L679.2 292.2L679.5 296.2L679.8 300.1L680.2 303.8L680.7 307.4L681.3 310.9L681.9 314.2L682.7 317.4L683.6 320.4L684.5 323.3L687.4 322.3L686.6 319.5L685.9 316.6L685.3 313.5L684.7 310.3L684.3 307.0L683.9 303.5L683.7 299.8L683.5 296.0L683.4 292.1L683.4 288.0ZM683.4 364.5L683.4 360.4L683.5 356.5L683.7 352.7L683.9 349.0L684.3 345.4L684.7 342.0L685.3 338.7L685.9 335.6L686.6 332.5L687.4 329.7L684.5 328.7L683.6 331.7L682.7 334.8L681.9 338.1L681.3 341.4L680.7 344.9L680.2 348.6L679.8 352.4L679.5 356.3L679.2 360.3L679.1 364.5ZM697.5 288.0L697.5 292.1L697.4 296.0L697.2 299.8L697.0 303.5L696.6 307.0L696.2 310.3L695.7 313.5L695.1 316.6L694.4 319.5L693.6 322.3L696.4 323.3L697.4 320.4L698.2 317.4L699.0 314.2L699.7 310.9L700.2 307.4L700.7 303.8L701.1 300.1L701.4 296.2L701.6 292.2L701.8 288.0ZM701.8 364.5L701.6 360.3L701.4 356.3L701.1 352.4L700.7 348.6L700.2 344.9L699.7 341.4L699.0 338.1L698.2 334.8L697.4 331.7L696.5 328.7L693.6 329.7L694.4 332.5L695.1 335.6L695.7 338.7L696.2 342.0L696.6 345.4L697.0 349.0L697.2 352.6L697.4 356.5L697.5 360.4L697.5 364.5ZM705.1 288.0L705.2 292.2L705.4 296.2L705.7 300.1L706.1 303.8L706.6 307.4L707.2 310.9L707.9 314.2L708.7 317.4L709.5 320.4L710.5 323.3L713.3 322.3L712.5 319.5L711.8 316.6L711.2 313.5L710.7 310.3L710.3 307.0L709.9 303.5L709.6 299.8L709.5 296.0L709.4 292.1L709.4 288.0ZM709.4 364.5L709.4 360.4L709.5 356.5L709.6 352.7L709.9 349.0L710.3 345.4L710.7 342.0L711.2 338.7L711.8 335.6L712.6 332.5L713.3 329.7L710.5 328.7L709.5 331.7L708.7 334.8L707.9 338.1L707.2 341.4L706.6 344.9L706.1 348.6L705.7 352.4L705.4 356.3L705.2 360.3L705.1 364.5ZM723.4 288.0L723.4 292.1L723.3 296.0L723.2 299.8L722.9 303.5L722.6 307.0L722.1 310.3L721.6 313.5L721.0 316.6L720.3 319.5L719.6 322.3L722.4 323.3L723.3 320.4L724.2 317.4L724.9 314.2L725.6 310.9L726.2 307.4L726.7 303.8L727.1 300.1L727.4 296.2L727.6 292.2L727.7 288.0ZM727.7 364.5L727.6 360.3L727.4 356.3L727.1 352.4L726.7 348.6L726.2 344.9L725.6 341.4L724.9 338.1L724.2 334.8L723.3 331.7L722.4 328.7L719.5 329.7L720.3 332.5L721.0 335.6L721.6 338.7L722.1 342.0L722.6 345.4L722.9 349.0L723.2 352.6L723.3 356.5L723.4 360.4L723.4 364.5ZM731.0 288.0L731.2 292.2L731.4 296.2L731.7 300.1L732.1 303.8L732.6 307.4L733.2 310.9L733.9 314.2L734.6 317.4L735.5 320.4L736.5 323.3L739.3 322.3L738.5 319.5L737.8 316.6L737.2 313.5L736.7 310.3L736.2 307.0L735.9 303.5L735.6 299.8L735.4 296.0L735.3 292.1L735.3 288.0ZM735.3 364.5L735.3 360.4L735.4 356.5L735.6 352.7L735.9 349.0L736.2 345.4L736.7 342.0L737.2 338.7L737.8 335.6L738.5 332.5L739.3 329.7L736.5 328.7L735.5 331.7L734.6 334.8L733.9 338.1L733.2 341.4L732.6 344.9L732.1 348.6L731.7 352.4L731.4 356.3L731.2 360.3L731.0 364.5ZM749.4 288.0L749.4 292.1L749.3 296.0L749.1 299.8L748.9 303.5L748.5 307.0L748.1 310.3L747.6 313.5L747.0 316.6L746.3 319.5L745.5 322.3L748.4 323.3L749.3 320.4L750.1 317.4L750.9 314.2L751.6 310.9L752.1 307.4L752.6 303.8L753.0 300.1L753.3 296.2L753.6 292.2L753.7 288.0ZM753.7 364.5L753.6 360.3L753.3 356.3L753.0 352.4L752.6 348.6L752.1 344.9L751.6 341.4L750.9 338.1L750.2 334.8L749.3 331.7L748.4 328.7L745.5 329.7L746.3 332.5L747.0 335.6L747.6 338.7L748.1 342.0L748.5 345.4L748.9 349.0L749.1 352.6L749.3 356.5L749.4 360.4L749.4 364.5ZM757.0 288.0L757.1 292.2L757.3 296.2L757.7 300.1L758.1 303.8L758.6 307.4L759.1 310.9L759.8 314.2L760.6 317.4L761.5 320.4L762.4 323.3L765.3 322.3L764.5 319.5L763.8 316.6L763.1 313.5L762.6 310.3L762.2 307.0L761.8 303.5L761.6 299.8L761.4 296.0L761.3 292.1L761.3 288.0ZM761.3 364.5L761.3 360.4L761.4 356.5L761.6 352.7L761.8 349.0L762.2 345.4L762.6 342.0L763.1 338.7L763.8 335.6L764.5 332.5L765.3 329.7L762.4 328.7L761.5 331.7L760.6 334.8L759.8 338.1L759.1 341.4L758.6 344.9L758.1 348.6L757.7 352.4L757.3 356.3L757.1 360.3L757.0 364.5ZM775.4 288.0L775.4 292.1L775.3 296.0L775.1 299.8L774.8 303.5L774.5 307.0L774.1 310.3L773.5 313.5L772.9 316.6L772.2 319.5L771.5 322.3L774.3 323.3L775.3 320.4L776.1 317.4L776.9 314.2L777.5 310.9L778.1 307.4L778.6 303.8L779.0 300.1L779.3 296.2L779.5 292.2L779.6 288.0ZM779.6 364.5L779.5 360.3L779.3 356.3L779.0 352.4L778.6 348.6L778.1 344.9L777.5 341.4L776.9 338.1L776.1 334.8L775.3 331.7L774.3 328.7L771.5 329.7L772.2 332.5L772.9 335.6L773.5 338.7L774.1 342.0L774.5 345.4L774.8 349.0L775.1 352.6L775.3 356.5L775.4 360.4L775.4 364.5ZM783.0 288.0L783.1 292.2L783.3 296.2L783.6 300.1L784.0 303.8L784.5 307.4L785.1 310.9L785.8 314.2L786.6 317.4L787.4 320.4L788.4 323.3L791.2 322.3L790.4 319.5L789.7 316.6L789.1 313.5L788.6 310.3L788.1 307.0L787.8 303.5L787.5 299.8L787.3 296.0L787.2 292.1L787.2 288.0ZM787.2 364.5L787.2 360.4L787.3 356.5L787.5 352.7L787.8 349.0L788.1 345.4L788.6 342.0L789.1 338.7L789.7 335.6L790.4 332.5L791.2 329.7L788.4 328.7L787.4 331.7L786.6 334.8L785.8 338.1L785.1 341.4L784.5 344.9L784.0 348.6L783.6 352.4L783.3 356.3L783.1 360.3L783.0 364.5ZM801.3 288.0L801.3 292.1L801.2 296.0L801.1 299.8L800.8 303.5L800.5 307.0L800.0 310.3L799.5 313.5L798.9 316.6L798.2 319.5L797.4 322.3L800.3 323.3L801.2 320.4L802.1 317.4L802.8 314.2L803.5 310.9L804.1 307.4L804.6 303.8L805.0 300.1L805.3 296.2L805.5 292.2L805.6 288.0ZM805.6 364.5L805.5 360.3L805.3 356.3L805.0 352.4L804.6 348.6L804.1 344.9L803.5 341.4L802.8 338.1L802.1 334.8L801.2 331.7L800.3 328.7L797.4 329.7L798.2 332.5L798.9 335.6L799.5 338.7L800.0 342.0L800.5 345.4L800.8 349.0L801.1 352.6L801.2 356.5L801.3 360.4L801.3 364.5ZM808.9 288.0L809.0 292.2L809.3 296.2L809.6 300.1L810.0 303.8L810.5 307.4L811.1 310.9L811.7 314.2L812.5 317.4L813.4 320.4L814.3 323.3L817.2 322.3L816.4 319.5L815.7 316.6L815.1 313.5L814.5 310.3L814.1 307.0L813.7 303.5L813.5 299.8L813.3 296.0L813.2 292.1L813.2 288.0ZM813.2 364.5L813.2 360.4L813.3 356.5L813.5 352.7L813.7 349.0L814.1 345.4L814.5 342.0L815.1 338.7L815.7 335.6L816.4 332.5L817.2 329.7L814.3 328.7L813.4 331.7L812.5 334.8L811.7 338.1L811.1 341.4L810.5 344.9L810.0 348.6L809.6 352.4L809.3 356.3L809.0 360.3L808.9 364.5ZM827.3 288.0L827.3 292.1L827.2 296.0L827.0 299.8L826.8 303.5L826.4 307.0L826.0 310.3L825.5 313.5L824.9 316.6L824.2 319.5L823.4 322.3L826.2 323.3L827.2 320.4L828.0 317.4L828.8 314.2L829.5 310.9L830.0 307.4L830.5 303.8L830.9 300.1L831.2 296.2L831.4 292.2L831.6 288.0ZM831.6 364.5L831.4 360.3L831.2 356.3L830.9 352.4L830.5 348.6L830.0 344.9L829.5 341.4L828.8 338.1L828.0 334.8L827.2 331.7L826.3 328.7L823.4 329.7L824.2 332.5L824.9 335.6L825.5 338.7L826.0 342.0L826.4 345.4L826.8 349.0L827.0 352.6L827.2 356.5L827.3 360.4L827.3 364.5ZM834.9 288.0L835.0 292.2L835.2 296.2L835.5 300.1L835.9 303.8L836.4 307.4L837.0 310.9L837.7 314.2L838.5 317.4L839.3 320.4L840.3 323.3L843.1 322.3L842.3 319.5L841.6 316.6L841.0 313.5L840.5 310.3L840.1 307.0L839.7 303.5L839.4 299.8L839.3 296.0L839.2 292.1L839.2 288.0ZM839.2 364.5L839.2 360.4L839.3 356.5L839.4 352.7L839.7 349.0L840.1 345.4L840.5 342.0L841.0 338.7L841.6 335.6L842.4 332.5L843.1 329.7L840.3 328.7L839.3 331.7L838.5 334.8L837.7 338.1L837.0 341.4L836.4 344.9L835.9 348.6L835.5 352.4L835.2 356.3L835.0 360.3L834.9 364.5Z" fill="#c6d5ea"/><g fill="#c6d5ea"><circle cx="-5.9" cy="322.8" r="1.50"/><circle cx="-5.9" cy="329.2" r="1.50"/><circle cx="11.0" cy="322.8" r="1.50"/><circle cx="11.0" cy="329.2" r="1.50"/><circle cx="20.1" cy="322.8" r="1.50"/><circle cx="20.1" cy="329.2" r="1.50"/><circle cx="37.0" cy="322.8" r="1.50"/><circle cx="37.0" cy="329.2" r="1.50"/><circle cx="46.0" cy="322.8" r="1.50"/><circle cx="46.0" cy="329.2" r="1.50"/><circle cx="62.9" cy="322.8" r="1.50"/><circle cx="62.9" cy="329.2" r="1.50"/><circle cx="72.0" cy="322.8" r="1.50"/><circle cx="72.0" cy="329.2" r="1.50"/><circle cx="88.9" cy="322.8" r="1.50"/><circle cx="88.9" cy="329.2" r="1.50"/><circle cx="97.9" cy="322.8" r="1.50"/><circle cx="97.9" cy="329.2" r="1.50"/><circle cx="114.8" cy="322.8" r="1.50"/><circle cx="114.8" cy="329.2" r="1.50"/><circle cx="123.9" cy="322.8" r="1.50"/><circle cx="123.9" cy="329.2" r="1.50"/><circle cx="140.8" cy="322.8" r="1.50"/><circle cx="140.8" cy="329.2" r="1.50"/><circle cx="149.9" cy="322.8" r="1.50"/><circle cx="149.9" cy="329.2" r="1.50"/><circle cx="166.8" cy="322.8" r="1.50"/><circle cx="166.8" cy="329.2" r="1.50"/><circle cx="175.8" cy="322.8" r="1.50"/><circle cx="175.8" cy="329.2" r="1.50"/><circle cx="192.7" cy="322.8" r="1.50"/><circle cx="192.7" cy="329.2" r="1.50"/><circle cx="201.8" cy="322.8" r="1.50"/><circle cx="201.8" cy="329.2" r="1.50"/><circle cx="218.7" cy="322.8" r="1.50"/><circle cx="218.7" cy="329.2" r="1.50"/><circle cx="227.7" cy="322.8" r="1.50"/><circle cx="227.7" cy="329.2" r="1.50"/><circle cx="244.6" cy="322.8" r="1.50"/><circle cx="244.6" cy="329.2" r="1.50"/><circle cx="253.7" cy="322.8" r="1.50"/><circle cx="253.7" cy="329.2" r="1.50"/><circle cx="270.6" cy="322.8" r="1.50"/><circle cx="270.6" cy="329.2" r="1.50"/><circle cx="279.7" cy="322.8" r="1.50"/><circle cx="279.7" cy="329.2" r="1.50"/><circle cx="296.6" cy="322.8" r="1.50"/><circle cx="296.6" cy="329.2" r="1.50"/><circle cx="305.6" cy="322.8" r="1.50"/><circle cx="305.6" cy="329.2" r="1.50"/><circle cx="322.5" cy="322.8" r="1.50"/><circle cx="322.5" cy="329.2" r="1.50"/><circle cx="331.6" cy="322.8" r="1.50"/><circle cx="331.6" cy="329.2" r="1.50"/><circle cx="348.5" cy="322.8" r="1.50"/><circle cx="348.5" cy="329.2" r="1.50"/><circle cx="357.5" cy="322.8" r="1.50"/><circle cx="357.5" cy="329.2" r="1.50"/><circle cx="374.4" cy="322.8" r="1.50"/><circle cx="374.4" cy="329.2" r="1.50"/><circle cx="383.5" cy="322.8" r="1.50"/><circle cx="383.5" cy="329.2" r="1.50"/><circle cx="400.4" cy="322.8" r="1.50"/><circle cx="400.4" cy="329.2" r="1.50"/><circle cx="409.5" cy="322.8" r="1.50"/><circle cx="409.5" cy="329.2" r="1.50"/><circle cx="426.4" cy="322.8" r="1.50"/><circle cx="426.4" cy="329.2" r="1.50"/><circle cx="435.4" cy="322.8" r="1.50"/><circle cx="435.4" cy="329.2" r="1.50"/><circle cx="452.3" cy="322.8" r="1.50"/><circle cx="452.3" cy="329.2" r="1.50"/><circle cx="461.4" cy="322.8" r="1.50"/><circle cx="461.4" cy="329.2" r="1.50"/><circle cx="478.3" cy="322.8" r="1.50"/><circle cx="478.3" cy="329.2" r="1.50"/><circle cx="487.3" cy="322.8" r="1.50"/><circle cx="487.3" cy="329.2" r="1.50"/><circle cx="504.2" cy="322.8" r="1.50"/><circle cx="504.2" cy="329.2" r="1.50"/><circle cx="513.3" cy="322.8" r="1.50"/><circle cx="513.3" cy="329.2" r="1.50"/><circle cx="530.2" cy="322.8" r="1.50"/><circle cx="530.2" cy="329.2" r="1.50"/><circle cx="539.3" cy="322.8" r="1.50"/><circle cx="539.3" cy="329.2" r="1.50"/><circle cx="556.2" cy="322.8" r="1.50"/><circle cx="556.2" cy="329.2" r="1.50"/><circle cx="565.2" cy="322.8" r="1.50"/><circle cx="565.2" cy="329.2" r="1.50"/><circle cx="582.1" cy="322.8" r="1.50"/><circle cx="582.1" cy="329.2" r="1.50"/><circle cx="591.2" cy="322.8" r="1.50"/><circle cx="591.2" cy="329.2" r="1.50"/><circle cx="608.1" cy="322.8" r="1.50"/><circle cx="608.1" cy="329.2" r="1.50"/><circle cx="617.1" cy="322.8" r="1.50"/><circle cx="617.1" cy="329.2" r="1.50"/><circle cx="634.0" cy="322.8" r="1.50"/><circle cx="634.0" cy="329.2" r="1.50"/><circle cx="643.1" cy="322.8" r="1.50"/><circle cx="643.1" cy="329.2" r="1.50"/><circle cx="660.0" cy="322.8" r="1.50"/><circle cx="660.0" cy="329.2" r="1.50"/><circle cx="669.1" cy="322.8" r="1.50"/><circle cx="669.1" cy="329.2" r="1.50"/><circle cx="686.0" cy="322.8" r="1.50"/><circle cx="686.0" cy="329.2" r="1.50"/><circle cx="695.0" cy="322.8" r="1.50"/><circle cx="695.0" cy="329.2" r="1.50"/><circle cx="711.9" cy="322.8" r="1.50"/><circle cx="711.9" cy="329.2" r="1.50"/><circle cx="721.0" cy="322.8" r="1.50"/><circle cx="721.0" cy="329.2" r="1.50"/><circle cx="737.9" cy="322.8" r="1.50"/><circle cx="737.9" cy="329.2" r="1.50"/><circle cx="746.9" cy="322.8" r="1.50"/><circle cx="746.9" cy="329.2" r="1.50"/><circle cx="763.8" cy="322.8" r="1.50"/><circle cx="763.8" cy="329.2" r="1.50"/><circle cx="772.9" cy="322.8" r="1.50"/><circle cx="772.9" cy="329.2" r="1.50"/><circle cx="789.8" cy="322.8" r="1.50"/><circle cx="789.8" cy="329.2" r="1.50"/><circle cx="798.9" cy="322.8" r="1.50"/><circle cx="798.9" cy="329.2" r="1.50"/><circle cx="815.8" cy="322.8" r="1.50"/><circle cx="815.8" cy="329.2" r="1.50"/><circle cx="824.8" cy="322.8" r="1.50"/><circle cx="824.8" cy="329.2" r="1.50"/><circle cx="841.7" cy="322.8" r="1.50"/><circle cx="841.7" cy="329.2" r="1.50"/></g>
<g fill="#8d9cb4"><ellipse cx="2.50" cy="280.3" rx="12.8" ry="9.5"/><ellipse cx="2.50" cy="372.1" rx="12.8" ry="9.5"/><ellipse cx="28.46" cy="280.3" rx="12.8" ry="9.5"/><ellipse cx="28.46" cy="372.1" rx="12.8" ry="9.5"/><ellipse cx="54.42" cy="280.3" rx="12.8" ry="9.5"/><ellipse cx="54.42" cy="372.1" rx="12.8" ry="9.5"/><ellipse cx="80.38" cy="280.3" rx="12.8" ry="9.5"/><ellipse cx="80.38" cy="372.1" rx="12.8" ry="9.5"/><ellipse cx="106.34" cy="280.3" rx="12.8" ry="9.5"/><ellipse cx="106.34" cy="372.1" rx="12.8" ry="9.5"/><ellipse cx="132.30" cy="280.3" rx="12.8" ry="9.5"/><ellipse cx="132.30" cy="372.1" rx="12.8" ry="9.5"/><ellipse cx="158.26" cy="280.3" rx="12.8" ry="9.5"/><ellipse cx="158.26" cy="372.1" rx="12.8" ry="9.5"/><ellipse cx="184.22" cy="280.3" rx="12.8" ry="9.5"/><ellipse cx="184.22" cy="372.1" rx="12.8" ry="9.5"/><ellipse cx="210.18" cy="280.3" rx="12.8" ry="9.5"/><ellipse cx="210.18" cy="372.1" rx="12.8" ry="9.5"/><ellipse cx="236.14" cy="280.3" rx="12.8" ry="9.5"/><ellipse cx="236.14" cy="372.1" rx="12.8" ry="9.5"/><ellipse cx="262.10" cy="280.3" rx="12.8" ry="9.5"/><ellipse cx="262.10" cy="372.1" rx="12.8" ry="9.5"/><ellipse cx="288.06" cy="280.3" rx="12.8" ry="9.5"/><ellipse cx="288.06" cy="372.1" rx="12.8" ry="9.5"/><ellipse cx="314.02" cy="280.3" rx="12.8" ry="9.5"/><ellipse cx="314.02" cy="372.1" rx="12.8" ry="9.5"/><ellipse cx="339.98" cy="280.3" rx="12.8" ry="9.5"/><ellipse cx="339.98" cy="372.1" rx="12.8" ry="9.5"/><ellipse cx="365.94" cy="280.3" rx="12.8" ry="9.5"/><ellipse cx="365.94" cy="372.1" rx="12.8" ry="9.5"/><ellipse cx="391.90" cy="280.3" rx="12.8" ry="9.5"/><ellipse cx="391.90" cy="372.1" rx="12.8" ry="9.5"/><ellipse cx="417.86" cy="280.3" rx="12.8" ry="9.5"/><ellipse cx="417.86" cy="372.1" rx="12.8" ry="9.5"/><ellipse cx="443.82" cy="280.3" rx="12.8" ry="9.5"/><ellipse cx="443.82" cy="372.1" rx="12.8" ry="9.5"/><ellipse cx="469.78" cy="280.3" rx="12.8" ry="9.5"/><ellipse cx="469.78" cy="372.1" rx="12.8" ry="9.5"/><ellipse cx="495.74" cy="280.3" rx="12.8" ry="9.5"/><ellipse cx="495.74" cy="372.1" rx="12.8" ry="9.5"/><ellipse cx="521.70" cy="280.3" rx="12.8" ry="9.5"/><ellipse cx="521.70" cy="372.1" rx="12.8" ry="9.5"/><ellipse cx="547.66" cy="280.3" rx="12.8" ry="9.5"/><ellipse cx="547.66" cy="372.1" rx="12.8" ry="9.5"/><ellipse cx="573.62" cy="280.3" rx="12.8" ry="9.5"/><ellipse cx="573.62" cy="372.1" rx="12.8" ry="9.5"/><ellipse cx="599.58" cy="280.3" rx="12.8" ry="9.5"/><ellipse cx="599.58" cy="372.1" rx="12.8" ry="9.5"/><ellipse cx="625.54" cy="280.3" rx="12.8" ry="9.5"/><ellipse cx="625.54" cy="372.1" rx="12.8" ry="9.5"/><ellipse cx="651.50" cy="280.3" rx="12.8" ry="9.5"/><ellipse cx="651.50" cy="372.1" rx="12.8" ry="9.5"/><ellipse cx="677.46" cy="280.3" rx="12.8" ry="9.5"/><ellipse cx="677.46" cy="372.1" rx="12.8" ry="9.5"/><ellipse cx="703.42" cy="280.3" rx="12.8" ry="9.5"/><ellipse cx="703.42" cy="372.1" rx="12.8" ry="9.5"/><ellipse cx="729.38" cy="280.3" rx="12.8" ry="9.5"/><ellipse cx="729.38" cy="372.1" rx="12.8" ry="9.5"/><ellipse cx="755.34" cy="280.3" rx="12.8" ry="9.5"/><ellipse cx="755.34" cy="372.1" rx="12.8" ry="9.5"/><ellipse cx="781.30" cy="280.3" rx="12.8" ry="9.5"/><ellipse cx="781.30" cy="372.1" rx="12.8" ry="9.5"/><ellipse cx="807.26" cy="280.3" rx="12.8" ry="9.5"/><ellipse cx="807.26" cy="372.1" rx="12.8" ry="9.5"/><ellipse cx="833.22" cy="280.3" rx="12.8" ry="9.5"/><ellipse cx="833.22" cy="372.1" rx="12.8" ry="9.5"/></g>

<!-- texts -->
<g class="tx">
<text class="t1" x="8.3" y="21.7" font-size="20.3" textLength="251.5" lengthAdjust="spacingAndGlyphs">Type III Secretion</text>
<text class="t1" x="23.5" y="46.8" font-size="20.3" textLength="220.5" lengthAdjust="spacingAndGlyphs">System (T3SS)</text>
<text x="709.5" y="12.6" font-size="10.3" textLength="94" lengthAdjust="spacingAndGlyphs">Extracellular-</text>
<text x="709.5" y="25" font-size="10.3" textLength="108" lengthAdjust="spacingAndGlyphs">outside <tspan font-style="italic">the cell</tspan></text>
<text class="t2" x="256" y="110" font-size="14.2" textLength="102" lengthAdjust="spacingAndGlyphs">Translocon</text>
<text class="t2" x="512.5" y="181" font-size="14.5" textLength="66.5" lengthAdjust="spacingAndGlyphs">Needle</text>
<text class="t2" x="533.3" y="237.1" font-size="14.5" textLength="215.5" lengthAdjust="spacingAndGlyphs">Membrane-bound rings</text>
<text class="t2" x="61.5" y="266" font-size="14.5" textLength="228.5" lengthAdjust="spacingAndGlyphs">Bacterial Cell Membrane</text>
<text class="t2" x="431" y="411.9" font-size="14.5" textLength="72.5" lengthAdjust="spacingAndGlyphs">ATPase</text>
<text class="t2" x="258.3" y="456.8" font-size="14.5" textLength="72" lengthAdjust="spacingAndGlyphs">Effector</text>
<text class="t2" x="258.3" y="472.5" font-size="14.5" textLength="77" lengthAdjust="spacingAndGlyphs">Proteins</text>
<text x="5.5" y="462.6" font-size="10.3" textLength="118.5" lengthAdjust="spacingAndGlyphs">Bacteria Cytosol</text>
<text x="6" y="475" font-size="10.3" textLength="95.5" lengthAdjust="spacingAndGlyphs">(Intracellular-</text>
<text x="6" y="487" font-size="10.3" textLength="104.5" lengthAdjust="spacingAndGlyphs"><tspan font-style="italic">inside the cell</tspan>)</text>

</g>
<!-- braces -->
<path d="M457 104.5C470 104.5 479 107 479 116V166C479 171 484 173.5 490 173.8H501M490 174.2C484 174.5 479 177 479 182V232C479 241 470 242.5 457 242.5" stroke="#333" stroke-width="2" fill="none"/>
<path d="M489.5 256.5C502 256.5 510 259 510 268V312C510 317 515 319.7 521 319.8H534.5M521 320.2C515 320.5 510 323 510 328V373C510 382 502 384.5 489.5 384.5" stroke="#333" stroke-width="2" fill="none"/>
<path d="M624.4 250L538 321" stroke="#222" stroke-width="1.6"/>

<g filter="url(#mot)"><path d="M401.1 91.1Q401.3 91.7 401.5 92.4Q401.7 93.0 401.5 93.5Q401.4 93.9 401.2 94.3Q401.1 94.7 400.4 94.9Q399.7 95.0 399.3 95.3Q398.9 95.5 398.3 95.7Q397.8 95.9 397.2 96.0Q396.6 96.2 396.0 96.4Q395.3 96.7 394.2 96.5Q393.0 96.3 391.9 96.5Q390.8 96.6 390.1 96.4Q389.4 96.2 388.8 96.1Q388.1 96.0 387.5 95.8Q387.0 95.7 386.3 95.5Q385.7 95.4 385.4 95.0Q385.2 94.6 385.3 94.2Q385.4 93.7 385.1 93.3Q384.8 92.9 384.8 92.3Q384.9 91.7 384.5 91.0Q384.1 90.4 384.3 89.9Q384.5 89.5 384.7 89.1Q385.0 88.7 385.3 88.4Q385.7 88.0 386.2 87.8Q386.7 87.6 387.2 87.3Q387.6 87.0 388.4 86.9Q389.1 86.8 390.0 86.9Q390.8 87.0 391.9 86.8Q393.0 86.6 394.1 86.7Q395.2 86.9 396.1 86.9Q396.9 86.9 397.5 87.1Q398.1 87.3 398.6 87.5Q399.0 87.7 399.4 88.0Q399.9 88.3 400.2 88.6Q400.6 88.9 400.8 89.2Q401.0 89.6 401.0 90.1Q401.0 90.5 401.1 91.1Z" fill="#98c76d" stroke="#96c66b" stroke-width="0.7"/><ellipse cx="391.6" cy="93.5" rx="5.6" ry="2.0" fill="#93c46b" opacity="0.55"/><ellipse cx="393.9" cy="90.5" rx="4.9" ry="1.3" fill="#b3d68f" opacity="0.5"/></g>
<!-- needle -->
<rect x="378" y="124" width="42.3" height="118" fill="#f29cac" stroke="#cf6987" stroke-width="1.2"/>
<rect x="375" y="111" width="48" height="16.8" rx="4.5" fill="#c94a68" stroke="#a8354f" stroke-width="0.8"/>
<rect x="371.2" y="97.2" width="55.3" height="16.3" rx="5" fill="#a8363a" stroke="#8a2a2e" stroke-width="0.8"/>

<!-- teal ring -->
<path d="M356.5 240.8H442.5Q445 240.8 444.8 243Q444.7 245.5 441.5 248Q446.5 252 446.4 257.5Q446 264 438.5 272Q437.5 281 438.5 289Q441 297 448.3 303Q449 305.5 446 305.5H353Q350 305.5 350.4 303Q357.5 297 360.2 289Q361 281 360.4 272Q353 264 353.2 257.5Q353.5 252 356.8 248Q354.3 245.5 354.3 243Q354.3 240.8 356.5 240.8Z" fill="#4bb9c7" stroke="#2a8a96" stroke-width="0.9"/>
<path d="M356 249.2H443M360.3 279.5H438.3" stroke="#2a7e8a" stroke-width="0.9"/>

<!-- blue ring -->
<path d="M339 305.2H460Q464 305.5 464.7 311Q465 316 457.5 321Q457.5 332 455.5 334.5H344Q342 332 341.5 321Q334.5 316 334.2 311Q334.5 305.5 339 305.2Z" fill="#8a9ccf" stroke="#5d74b8" stroke-width="0.9"/>
<path d="M341.5 321H457.5" stroke="#5d74b8" stroke-width="0.9"/>

<!-- ATPase -->
<ellipse cx="371.5" cy="407" rx="6.8" ry="4.2" fill="#e0b2d9" stroke="#c58cc0" stroke-width="1"/>
<path d="M378 380C371 385 366.8 391 366.8 397.5C366.8 402 368.5 404.5 371.5 405.5" stroke="#4f69aa" stroke-width="7" fill="none" stroke-linecap="round"/>
<path d="M379.5 381C373 386 369.2 391.5 369.2 397.5C369.2 401 370.5 403 372.5 404" stroke="#7d96cd" stroke-width="3" fill="none" stroke-linecap="round"/>
<!-- teal base -->
<path d="M361 372H440Q440 383 420 383H380Q361 383 361 372Z" fill="#5fb3a8" stroke="#3e8f86" stroke-width="0.8"/>
<!-- green body -->
<path d="M332 343H466.5Q468 346 468 349Q468 352 469 353Q474 355 473.7 358Q473 361 470.5 364V373Q470.5 377.5 466 377.5H332Q327.5 377.5 327.5 373V364Q325 361 325 357Q325.5 353 331 351Q331.5 349 331 347Q331 345 332 343Z" fill="#4f8e50" stroke="#336b38" stroke-width="0.9"/>
<path d="M327.5 363.2H470.5" stroke="#336b38" stroke-width="0.9"/>
<!-- olive band -->
<rect x="331" y="335" width="137.8" height="8.2" rx="4" fill="#98a967" stroke="#6f7f40" stroke-width="0.8"/>

<rect x="396" y="382.5" width="12" height="13" fill="#4d4384"/>
<rect x="398.5" y="382.5" width="7" height="12" fill="#5b4f95"/>
<path d="M377 404Q376.5 391 390 391Q401 391 402 396Q403 391 413 391Q426.5 391 426 404Q426 416 413 416Q407 416 404 414Q401 418 395 416Q390 416 388 416Q377 416 377 404Z" fill="#a47cbd"/>
<ellipse cx="391" cy="404.5" rx="10" ry="10" fill="#aa84c3" opacity="0.6"/>
<ellipse cx="412" cy="404.5" rx="10" ry="10" fill="#aa84c3" opacity="0.6"/>
<ellipse cx="401" cy="407.2" rx="13" ry="10.8" fill="#b592c9"/>
<!-- blobs -->
<g filter="url(#mot)"><path d="M340.6 61.9Q340.7 62.5 340.7 63.2Q340.7 63.8 340.8 64.4Q340.9 64.9 340.4 65.2Q339.8 65.5 339.5 65.8Q339.2 66.2 338.8 66.5Q338.4 66.7 337.7 66.8Q337.0 66.9 336.5 67.2Q336.0 67.4 335.2 67.5Q334.5 67.7 333.3 67.8Q332.2 67.9 331.1 67.6Q330.1 67.3 329.3 67.3Q328.5 67.3 328.0 67.1Q327.5 66.8 326.6 66.9Q325.8 66.9 325.4 66.6Q325.0 66.3 325.0 65.8Q325.0 65.3 324.2 65.1Q323.5 64.9 323.3 64.4Q323.2 63.9 323.3 63.2Q323.4 62.5 323.5 61.8Q323.6 61.1 324.0 60.7Q324.4 60.4 324.7 60.0Q325.1 59.7 325.1 59.3Q325.2 58.8 325.8 58.7Q326.5 58.6 326.9 58.3Q327.4 58.1 328.0 57.9Q328.6 57.8 329.4 57.8Q330.1 57.8 331.2 57.6Q332.2 57.4 333.3 57.4Q334.4 57.5 335.3 57.4Q336.1 57.4 336.7 57.6Q337.2 57.9 337.8 58.1Q338.4 58.2 338.8 58.5Q339.2 58.8 339.6 59.1Q340.1 59.4 340.2 59.8Q340.3 60.3 340.4 60.7Q340.4 61.2 340.6 61.9Z" fill="#98c76d" stroke="#96c66b" stroke-width="0.7"/><ellipse cx="330.8" cy="64.4" rx="5.6" ry="2.1" fill="#93c46b" opacity="0.55"/><ellipse cx="333.1" cy="61.2" rx="4.9" ry="1.4" fill="#b3d68f" opacity="0.5"/></g><g filter="url(#mot)"><path d="M385.6 64.3Q385.8 64.9 385.9 65.6Q386.0 66.3 385.8 66.7Q385.7 67.2 385.1 67.5Q384.6 67.8 384.2 68.0Q383.8 68.3 383.5 68.7Q383.3 69.0 382.7 69.2Q382.2 69.4 381.7 69.7Q381.2 70.0 380.4 70.1Q379.6 70.1 378.4 70.1Q377.3 70.1 376.2 70.1Q375.1 70.0 374.3 70.0Q373.5 69.9 373.0 69.6Q372.5 69.3 371.9 69.2Q371.2 69.1 371.0 68.7Q370.7 68.4 369.9 68.2Q369.2 68.1 369.4 67.6Q369.6 67.0 369.0 66.7Q368.4 66.3 368.8 65.6Q369.2 64.9 368.9 64.2Q368.6 63.5 369.0 63.1Q369.3 62.7 369.5 62.3Q369.7 61.9 369.9 61.5Q370.0 61.1 370.8 61.0Q371.6 61.0 372.1 60.8Q372.6 60.6 373.0 60.1Q373.3 59.7 374.2 59.8Q375.1 59.8 376.2 59.9Q377.3 60.1 378.5 59.8Q379.7 59.5 380.5 59.6Q381.3 59.7 381.7 60.1Q382.1 60.5 382.7 60.7Q383.3 60.8 383.6 61.1Q383.9 61.4 384.3 61.7Q384.8 62.0 385.2 62.3Q385.6 62.6 385.5 63.1Q385.4 63.6 385.6 64.3Z" fill="#98c76d" stroke="#96c66b" stroke-width="0.7"/><ellipse cx="375.9" cy="66.8" rx="5.6" ry="2.1" fill="#93c46b" opacity="0.55"/><ellipse cx="378.2" cy="63.6" rx="4.9" ry="1.4" fill="#b3d68f" opacity="0.5"/></g><g filter="url(#mot)"><path d="M403.2 156.0Q403.3 156.8 403.7 157.7Q404.1 158.6 403.9 159.2Q403.6 159.8 403.5 160.3Q403.4 160.9 402.4 161.1Q401.5 161.4 400.9 161.7Q400.3 162.0 399.8 162.5Q399.4 162.9 398.5 163.1Q397.6 163.2 396.4 163.2Q395.3 163.2 393.9 163.4Q392.4 163.6 390.9 163.4Q389.4 163.2 388.3 163.3Q387.2 163.4 386.6 162.9Q386.0 162.4 385.3 162.2Q384.5 162.0 383.5 161.9Q382.5 161.8 382.4 161.2Q382.3 160.6 382.0 160.1Q381.8 159.6 381.2 159.1Q380.5 158.6 380.6 157.7Q380.7 156.8 381.1 156.0Q381.6 155.2 381.5 154.5Q381.3 153.9 381.6 153.4Q381.8 152.8 382.7 152.6Q383.5 152.3 383.7 151.8Q384.0 151.3 385.0 151.2Q386.0 151.2 386.7 150.9Q387.5 150.6 388.5 150.6Q389.6 150.7 391.0 150.6Q392.4 150.5 394.0 150.1Q395.6 149.8 396.5 150.2Q397.4 150.6 398.5 150.5Q399.6 150.5 400.1 151.0Q400.5 151.5 401.2 151.7Q401.9 152.0 402.6 152.4Q403.3 152.7 403.5 153.3Q403.7 153.8 403.4 154.5Q403.1 155.2 403.2 156.0Z" fill="#98c76d" stroke="#96c66b" stroke-width="0.7"/><ellipse cx="390.5" cy="159.2" rx="7.5" ry="2.7" fill="#93c46b" opacity="0.55"/><ellipse cx="393.6" cy="155.2" rx="6.6" ry="1.8" fill="#b3d68f" opacity="0.5"/></g><g filter="url(#mot)"><path d="M410.6 190.9Q410.7 191.6 410.1 192.2Q409.5 192.8 409.7 193.3Q410.0 193.8 409.5 194.1Q408.9 194.3 409.0 194.8Q409.1 195.3 408.2 195.3Q407.3 195.3 407.1 195.8Q407.0 196.2 406.2 196.3Q405.5 196.4 404.8 196.5Q404.1 196.7 402.9 196.8Q401.8 196.8 400.8 196.6Q399.7 196.3 399.0 196.2Q398.2 196.2 397.5 196.1Q396.8 196.1 396.4 195.8Q396.1 195.5 395.7 195.2Q395.2 195.0 394.9 194.7Q394.6 194.4 394.0 194.1Q393.5 193.9 393.3 193.4Q393.1 192.9 393.1 192.3Q393.1 191.6 393.5 191.0Q393.9 190.4 393.6 189.8Q393.4 189.3 393.9 189.0Q394.3 188.7 394.8 188.5Q395.3 188.2 395.6 187.9Q395.9 187.6 396.4 187.4Q397.0 187.3 397.7 187.2Q398.4 187.2 399.0 187.0Q399.6 186.7 400.7 186.8Q401.8 186.8 402.9 186.8Q404.0 186.7 404.8 186.7Q405.7 186.6 406.2 186.9Q406.8 187.1 407.2 187.4Q407.6 187.7 408.3 187.8Q408.9 187.9 409.4 188.2Q409.8 188.5 409.8 189.0Q409.7 189.5 410.1 189.9Q410.6 190.2 410.6 190.9Z" fill="#98c76d" stroke="#96c66b" stroke-width="0.7"/><ellipse cx="400.4" cy="193.4" rx="5.4" ry="2.0" fill="#93c46b" opacity="0.55"/><ellipse cx="402.7" cy="190.4" rx="4.8" ry="1.3" fill="#b3d68f" opacity="0.5"/></g><g filter="url(#mot)"><path d="M370.4 434.9Q370.2 435.6 370.2 436.2Q370.2 436.9 370.0 437.3Q369.8 437.7 369.6 438.1Q369.4 438.5 369.0 438.7Q368.7 439.0 368.4 439.4Q368.1 439.7 367.4 439.8Q366.7 439.8 366.2 440.1Q365.7 440.4 364.9 440.2Q364.0 440.1 363.0 440.2Q362.0 440.4 360.9 440.3Q359.9 440.3 359.2 440.2Q358.5 440.0 357.7 440.1Q356.9 440.1 356.6 439.8Q356.2 439.5 355.6 439.4Q354.9 439.2 354.5 438.9Q354.1 438.7 354.2 438.2Q354.3 437.7 353.8 437.3Q353.3 436.9 353.3 436.3Q353.3 435.6 353.4 434.9Q353.6 434.3 354.1 433.9Q354.6 433.6 354.6 433.2Q354.6 432.7 354.8 432.4Q355.1 432.0 355.7 431.9Q356.2 431.7 356.8 431.6Q357.3 431.4 357.9 431.2Q358.4 431.1 359.2 431.0Q359.9 430.9 361.0 430.7Q362.0 430.5 363.1 430.7Q364.1 430.9 364.9 430.9Q365.6 431.0 366.3 431.1Q367.0 431.1 367.6 431.2Q368.3 431.4 368.4 431.8Q368.6 432.2 368.8 432.6Q369.0 432.9 369.7 433.1Q370.5 433.3 370.6 433.8Q370.6 434.3 370.4 434.9Z" fill="#98c76d" stroke="#96c66b" stroke-width="0.7"/><ellipse cx="360.6" cy="437.4" rx="5.4" ry="2.0" fill="#93c46b" opacity="0.55"/><ellipse cx="362.9" cy="434.4" rx="4.8" ry="1.3" fill="#b3d68f" opacity="0.5"/></g><g filter="url(#mot)"><path d="M375.7 454.8Q375.6 455.5 375.7 456.2Q375.8 456.8 375.8 457.3Q375.7 457.8 375.1 458.0Q374.4 458.3 374.3 458.7Q374.3 459.1 373.8 459.4Q373.3 459.6 372.7 459.8Q372.1 460.0 371.3 459.9Q370.5 459.9 369.8 460.0Q369.1 460.0 368.0 460.2Q367.0 460.3 365.8 460.4Q364.7 460.5 364.0 460.3Q363.4 460.0 362.7 459.9Q362.0 459.9 361.5 459.6Q361.1 459.4 360.4 459.3Q359.7 459.2 359.3 458.9Q358.8 458.6 358.9 458.1Q358.9 457.6 358.4 457.2Q357.9 456.9 358.4 456.2Q359.0 455.5 358.6 454.8Q358.1 454.2 358.3 453.7Q358.4 453.2 359.0 453.0Q359.7 452.8 359.8 452.3Q359.8 451.9 360.3 451.7Q360.8 451.5 361.2 451.2Q361.6 450.8 362.5 450.9Q363.4 451.0 364.1 450.8Q364.8 450.6 365.9 450.5Q367.0 450.3 368.1 450.4Q369.3 450.6 370.0 450.8Q370.7 451.0 371.2 451.2Q371.7 451.4 372.6 451.3Q373.5 451.3 373.7 451.6Q374.0 452.0 374.6 452.2Q375.2 452.4 375.0 452.9Q374.8 453.5 375.3 453.8Q375.9 454.2 375.7 454.8Z" fill="#98c76d" stroke="#96c66b" stroke-width="0.7"/><ellipse cx="365.6" cy="457.3" rx="5.6" ry="2.0" fill="#93c46b" opacity="0.55"/><ellipse cx="367.9" cy="454.3" rx="4.9" ry="1.3" fill="#b3d68f" opacity="0.5"/></g><g filter="url(#mot)"><path d="M418.4 470.7Q418.4 471.4 418.6 472.1Q418.9 472.8 418.5 473.2Q418.2 473.6 417.9 473.9Q417.5 474.3 417.4 474.7Q417.2 475.1 416.7 475.3Q416.3 475.6 415.8 475.8Q415.2 476.0 414.6 476.1Q413.9 476.3 413.1 476.3Q412.4 476.3 411.3 476.3Q410.2 476.4 409.1 476.5Q407.9 476.6 407.2 476.4Q406.5 476.2 405.8 476.2Q405.0 476.1 404.4 475.9Q403.8 475.8 403.3 475.5Q402.8 475.3 402.4 474.9Q402.0 474.6 402.2 474.1Q402.3 473.6 402.2 473.1Q402.0 472.7 401.7 472.0Q401.3 471.4 401.5 470.7Q401.6 470.0 402.0 469.6Q402.4 469.2 402.4 468.8Q402.3 468.3 402.6 467.9Q402.8 467.5 403.3 467.3Q403.8 467.0 404.6 467.0Q405.4 467.0 406.0 466.8Q406.6 466.6 407.3 466.7Q408.1 466.7 409.2 466.3Q410.2 465.9 411.3 466.2Q412.3 466.5 413.2 466.4Q414.1 466.3 414.7 466.6Q415.3 466.8 415.8 467.0Q416.4 467.2 416.8 467.4Q417.2 467.7 417.7 468.0Q418.2 468.2 418.4 468.7Q418.5 469.1 418.5 469.6Q418.4 470.1 418.4 470.7Z" fill="#98c76d" stroke="#96c66b" stroke-width="0.7"/><ellipse cx="408.8" cy="473.3" rx="5.6" ry="2.1" fill="#93c46b" opacity="0.55"/><ellipse cx="411.1" cy="470.1" rx="4.9" ry="1.4" fill="#b3d68f" opacity="0.5"/></g>

<!-- arrow -->
<path d="M399.6 70L404.9 441.7" stroke="#262626" stroke-width="1.9"/>
<path d="M399.2 61.8L407 70.8H391.8Z" fill="#242424"/>

<!-- watermark -->
<g class="wm" opacity="0.5">

<g fill="#9a9a9a" transform="translate(0.7 0.7)">
<path fill-rule="evenodd" d="M611.7 372.2H634.6V400Q642 394.6 655 394.6A31 21.2 0 0 1 655 437Q642 437 634.6 431V435.4H611.7Z M650.6 405.8A14.4 9.2 0 0 0 650.6 424.2A14.4 9.2 0 0 0 650.6 405.8Z"/>
<rect x="693.8" y="397" width="24" height="38.4"/>
<path fill-rule="evenodd" d="M691.5 378C691.5 374 698 372 705 372C712 372 718 374 721 378Q725 386 733 391Q741 395 752 394A36.1 22.1 0 1 1 729.5 412Q728 394 712 390.5C700 389 691.5 385 691.5 378Z M765 407.6A13.6 8 0 1 0 765 423.6A13.6 8 0 1 0 765 407.6Z"/>
</g><g fill="#bdbdbd">
<path fill-rule="evenodd" d="M611.7 372.2H634.6V400Q642 394.6 655 394.6A31 21.2 0 0 1 655 437Q642 437 634.6 431V435.4H611.7Z M650.6 405.8A14.4 9.2 0 0 0 650.6 424.2A14.4 9.2 0 0 0 650.6 405.8Z"/>
<rect x="693.8" y="397" width="24" height="38.4"/>
<path fill-rule="evenodd" d="M691.5 378C691.5 374 698 372 705 372C712 372 718 374 721 378Q725 386 733 391Q741 395 752 394A36.1 22.1 0 1 1 729.5 412Q728 394 712 390.5C700 389 691.5 385 691.5 378Z M765 407.6A13.6 8 0 1 0 765 423.6A13.6 8 0 1 0 765 407.6Z"/>
</g>
<text x="609.5" y="468.4" font-size="29" textLength="30.1" lengthAdjust="spacingAndGlyphs" stroke="#bdbdbd" stroke-width="1.2">R</text><text x="641.9" y="468.4" font-size="29" textLength="24.2" lengthAdjust="spacingAndGlyphs" stroke="#bdbdbd" stroke-width="1.2">E</text><text x="665.7" y="468.4" font-size="29" textLength="41.8" lengthAdjust="spacingAndGlyphs" stroke="#bdbdbd" stroke-width="1.2">N</text><text x="709.1" y="468.4" font-size="29" textLength="33.7" lengthAdjust="spacingAndGlyphs" stroke="#bdbdbd" stroke-width="1.2">D</text><text x="747.1" y="468.4" font-size="29" textLength="24.6" lengthAdjust="spacingAndGlyphs" stroke="#bdbdbd" stroke-width="1.2">E</text><text x="774.2" y="468.4" font-size="29" textLength="29.2" lengthAdjust="spacingAndGlyphs" stroke="#bdbdbd" stroke-width="1.2">R</text>
<text x="612" y="487" font-size="12.8" textLength="196" lengthAdjust="spacingAndGlyphs">WWW.BIORENDER.COM</text>
</g>

</svg>
</body></html>
